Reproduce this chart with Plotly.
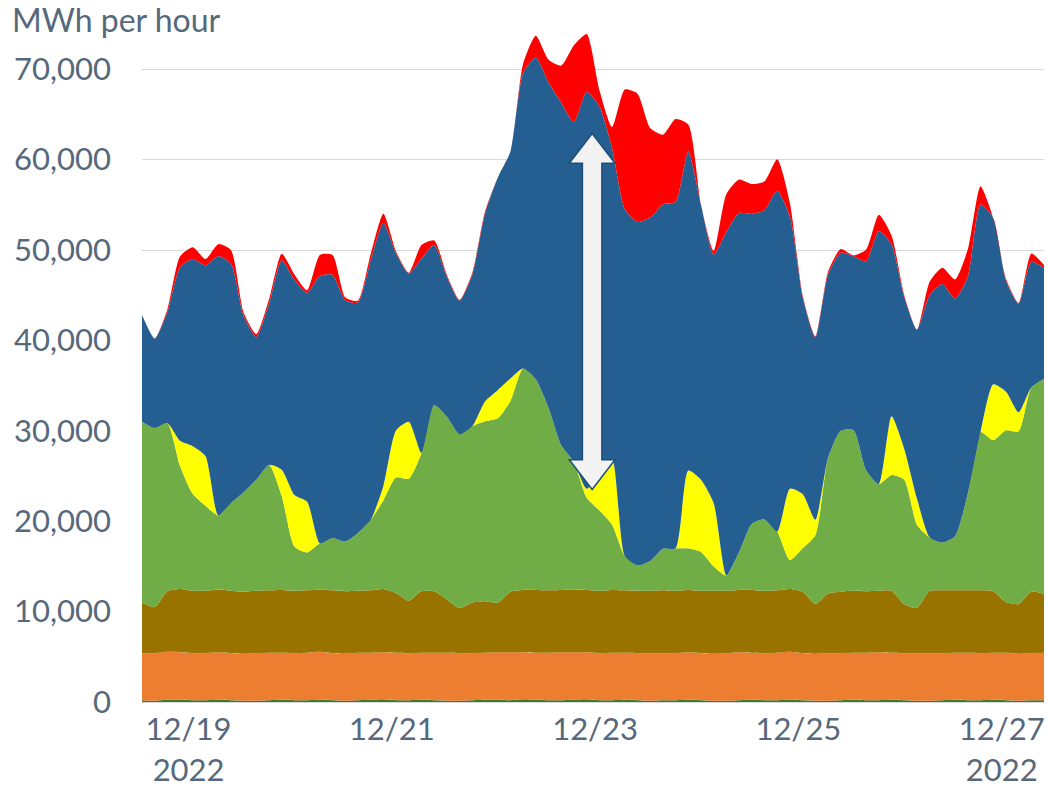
import plotly.graph_objects as go

# hours since 12/19/2022 00:00 (3-hourly samples)
hours = list(range(1, 215, 3))

hydro = [200, 150, 250, 250, 200, 200, 250, 200, 150, 150,
         200, 250, 200, 200, 250, 200, 150, 200, 250, 300,
         200, 200, 250, 200, 150, 150, 200, 250, 250, 200,
         300, 250, 200, 200, 250, 300, 200, 200, 250, 200,
         150, 200, 200, 250, 200, 150, 150, 200, 250, 200,
         200, 250, 200, 150, 150, 200, 250, 200, 200, 250,
         200, 150, 150, 200, 250, 200, 200, 250, 200, 150,
         200, 200]

nuclear = [5200, 5250, 5300, 5250, 5200, 5200, 5250, 5200, 5200, 5250,
           5250, 5200, 5200, 5250, 5300, 5200, 5200, 5250, 5200, 5200,
           5250, 5200, 5200, 5250, 5300, 5250, 5200, 5200, 5250, 5300,
           5200, 5200, 5250, 5300, 5250, 5200, 5200, 5250, 5200, 5200,
           5250, 5200, 5200, 5250, 5200, 5200, 5250, 5300, 5200, 5200,
           5250, 5300, 5200, 5200, 5250, 5200, 5200, 5250, 5300, 5200,
           5200, 5250, 5250, 5200, 5200, 5250, 5200, 5200, 5250, 5200,
           5200, 5250]

coal = [5600, 5100, 6700, 7000, 6900, 6900, 6950, 6900, 6850, 6900,
        6900, 6950, 6900, 6900, 6900, 6950, 6900, 6850, 6900, 7000,
        6600, 5800, 6800, 6800, 5900, 5000, 5600, 5700, 5500, 6700,
        6900, 6950, 6900, 6900, 6950, 6900, 6900, 6950, 6900, 6900,
        6900, 6950, 6900, 6900, 6900, 6950, 6900, 6900, 6950, 6900,
        6900, 6950, 6800, 5500, 6600, 6800, 6850, 6800, 6800, 6850,
        5400, 5000, 6900, 6950, 6900, 6900, 6950, 6800, 5600, 5500,
        6800, 6500]

wind = [20000, 19800, 18600, 13600, 10700, 9400, 8200, 9700, 11000, 12300,
        13900, 10400, 4900, 4200, 5100, 5800, 5500, 6400, 7800, 9800,
        12800, 13500, 15300, 20600, 20200, 19200, 19500, 19900, 20400, 21100,
        24500, 23300, 20200, 16000, 14100, 10200, 8900, 7200, 3800, 2800,
        3300, 4600, 4700, 4600, 4300, 2700, 1700, 4200, 7300, 7900,
        6500, 3200, 4800, 7600, 15000, 17800, 17800, 13400, 11800, 12800,
        13800, 9200, 5900, 5300, 6000, 10700, 17500, 16700, 19000, 19100,
        22600, 23800]

solar = [0, 0, 0, 2800, 5300, 5500, 0, 0, 0, 0,
         0, 2900, 5700, 5600, 0, 0, 0, 0, 0, 1600,
         5200, 6300, 0, 0, 0, 0, 0, 2200, 3100, 2500,
         0, 0, 0, 0, 0, 1000, 3800, 7300, 0, 0,
         0, 0, 0, 8600, 8000, 7000, 0, 0, 0, 0,
         0, 7900, 6000, 1700, 0, 0, 0, 0, 0, 6500,
         3400, 2900, 0, 0, 0, 0, 0, 6200, 4300, 2100,
         0, 0]

gas = [11800, 9900, 12300, 19200, 20700, 21100, 28700, 26500, 19500, 15800,
       17800, 23200, 23800, 23100, 29600, 29100, 26700, 25500, 28700, 29100,
       19600, 16400, 21500, 17700, 15500, 14800, 16800, 20800, 23500, 25100,
       32700, 35600, 36000, 37900, 37600, 43900, 40900, 34400, 38400, 38000,
       38000, 38100, 38300, 35300, 30400, 27500, 38000, 37500, 34300, 34200,
       37700, 30100, 21800, 20200, 20300, 19700, 19200, 23100, 28000, 19000,
       16800, 18700, 26800, 28600, 26300, 24000, 25200, 18400, 12300, 12000,
       13900, 12300]

other = [0, 0, 300, 1200, 1300, 700, 1300, 1500, 400, 300,
         500, 700, 600, 300, 2300, 2200, 300, 200, 700, 1000,
         200, 100, 1500, 500, 200, 100, 200, 200, 0, 0,
         1000, 2400, 2500, 4100, 8500, 6400, 1800, 2300, 13200, 14200,
         9900, 7700, 9200, 3000, 0, 400, 4200, 3700, 3300, 3200,
         3500, 1500, 200, 100, 300, 400, 100, 1300, 1800, 1000,
         200, 0, 1500, 1800, 2100, 3000, 2000, 0, 200, 100,
         900, 300]

tick_hours = [12, 60, 108, 156, 204]
tick_labels = ["12/19<br>2022", "12/21", "12/23", "12/25", "12/27<br>2022"]

series = [
    ("Hydro", hydro, "#3E7B27"),
    ("Nuclear", nuclear, "#ED7D31"),
    ("Coal", coal, "#997300"),
    ("Wind", wind, "#70AD47"),
    ("Solar", solar, "#FFFF00"),
    ("Natural gas", gas, "#255E91"),
    ("Other", other, "#FF0000"),
]

fig = go.Figure()
for name, vals, col in series:
    fig.add_trace(go.Scatter(
        x=hours, y=vals, name=name, stackgroup="gen", mode="lines",
        line=dict(width=0, color=col, shape="spline", smoothing=0.6),
        fillcolor=col, hoverinfo="skip"))

# double-headed block arrow annotation
ARROW_X = 107.3
ARROW_TOP = 62900
ARROW_BOTTOM = 23500
HEAD_LEN = 3300
HEAD_HALF = 5.4
SHAFT_HALF = 2.3
pts = [
    (ARROW_X, ARROW_TOP),
    (ARROW_X + HEAD_HALF, ARROW_TOP - HEAD_LEN),
    (ARROW_X + SHAFT_HALF, ARROW_TOP - HEAD_LEN),
    (ARROW_X + SHAFT_HALF, ARROW_BOTTOM + HEAD_LEN),
    (ARROW_X + HEAD_HALF, ARROW_BOTTOM + HEAD_LEN),
    (ARROW_X, ARROW_BOTTOM),
    (ARROW_X - HEAD_HALF, ARROW_BOTTOM + HEAD_LEN),
    (ARROW_X - SHAFT_HALF, ARROW_BOTTOM + HEAD_LEN),
    (ARROW_X - SHAFT_HALF, ARROW_TOP - HEAD_LEN),
    (ARROW_X - HEAD_HALF, ARROW_TOP - HEAD_LEN),
]
path = "M " + " L ".join(f"{x},{y}" for x, y in pts) + " Z"
fig.add_shape(type="path", path=path, xref="x", yref="y",
              fillcolor="#F2F2F2", line=dict(color="#1F4E79", width=1.5), layer="above")

text_col = "#56687C"
font_fam = "Lato, 'Open Sans', sans-serif"

fig.update_layout(
    width=1048, height=788,
    margin=dict(l=142, r=4, t=15, b=86),
    paper_bgcolor="white", plot_bgcolor="white",
    showlegend=False,
    font=dict(family=font_fam, size=31, color=text_col),
    xaxis=dict(range=[1, 214], tickvals=tick_hours, ticktext=tick_labels,
               showgrid=False, zeroline=False, showline=True, linecolor="#D9D9D9",
               linewidth=1, ticks="", automargin=False, ticklabelstandoff=0,
               tickfont=dict(size=31, color=text_col)),
    yaxis=dict(range=[0, 76000], tickvals=[0, 10000, 20000, 30000, 40000, 50000, 60000, 70000],
               tickformat=",d", showgrid=True, gridcolor="#D9D9D9", gridwidth=1,
               zeroline=False, showline=False, ticks="", ticklabelstandoff=30,
               automargin=False, tickfont=dict(size=31, color=text_col)),
    annotations=[dict(text="MWh per hour", xref="paper", yref="paper",
                      x=-0.146, y=0.993, xanchor="left", yanchor="middle",
                      showarrow=False, font=dict(size=32, color=text_col))],
)

fig.write_html(
    "out.html",
    config={"displayModeBar": False},
    post_script="document.body.style.margin='0';document.body.style.overflow='hidden';",
)
